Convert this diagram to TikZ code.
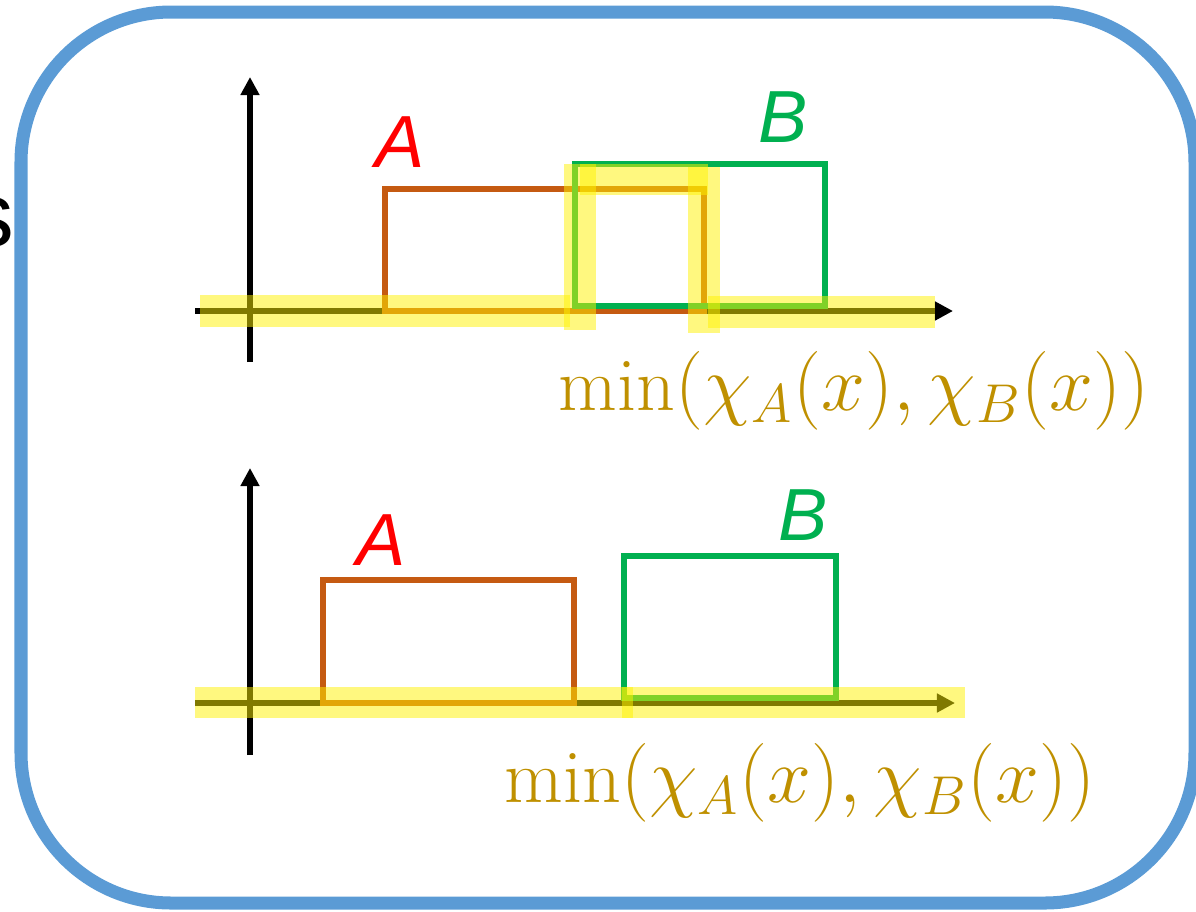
\documentclass[tikz,border=0pt]{standalone}
\usepackage{graphicx}
\usepackage{fontspec}
\newfontfamily\labelfont{Liberation Sans}
\usetikzlibrary{arrows.meta}
\definecolor{frameblue}{RGB}{91,155,213}
\definecolor{setbrown}{RGB}{197,90,17}
\definecolor{setgreen}{RGB}{0,176,80}
\definecolor{mingold}{RGB}{191,144,0}
\newcommand{\minchi}{\scalebox{1.08}{$\min(\chi_A(x),\chi_B(x))$}}

\begin{document}
\begin{tikzpicture}[x=0.01cm, y=-0.01cm,
    axis/.style={draw=black, line width=1.7pt,
                 -{Triangle[length=0.18cm, width=0.18cm]}},
    setA/.style={draw=setbrown, line width=1.6pt},
    setB/.style={draw=setgreen, line width=1.6pt},
    hl/.style={fill=yellow, fill opacity=0.5},
    setlbl/.style={font=\labelfont\itshape\fontsize{21}{25}\selectfont,
                   inner sep=0pt},
    minlbl/.style={text=mingold, font=\fontsize{20}{24}\selectfont,
                   inner sep=0pt}
  ]
  \useasboundingbox (0,0) rectangle (1196,911);
  \clip (0,0) rectangle (1196,911);

  % Frame
  \draw[frameblue, line width=3.7pt, rounded corners=1.5cm]
        (21,12) rectangle (1195,903);
  \node[anchor=east, inner sep=0pt,
        font=\labelfont\fontsize{26}{30}\selectfont] (cut) at (15,222) {s};

  % Upper plot: overlapping sets
  \coordinate (ya0) at (250,362);
  \coordinate (ya1) at (250,77);
  \coordinate (xa0) at (195,311);
  \coordinate (xa1) at (953,311);
  \draw[axis] (ya0) -- (ya1);
  \draw[axis] (xa0) -- (xa1);
  \draw[setA] (385,311) rectangle (704,189);
  \draw[setB] (575,306) rectangle (825,164);
  \node[setlbl, red]      (Aup) at (400,142) {A};
  \node[setlbl, setgreen] (Bup) at (783,117) {B};

  % highlight of the minimum
  \fill[hl] (200,295) rectangle (570,327);
  \fill[hl] (564,164) rectangle (596,330);
  \fill[hl] (580,164) rectangle (708,195);
  \fill[hl] (688,167) rectangle (720,333);
  \fill[hl] (708,296) rectangle (935,328);
  \node[minlbl] (minup) at (854,391) {\minchi};

  % Lower plot: disjoint sets
  \coordinate (yb0) at (250,755);
  \coordinate (yb1) at (250,468);
  \coordinate (xb0) at (195,703);
  \coordinate (xb1) at (955,703);
  \draw[axis] (yb0) -- (yb1);
  \draw[axis] (xb0) -- (xb1);
  \draw[setA] (323,703) rectangle (574,580);
  \draw[setB] (624,698) rectangle (836,556);
  \node[setlbl, red]      (Alow) at (381,540) {A};
  \node[setlbl, setgreen] (Blow) at (803,515) {B};

  \fill[hl] (195,687) rectangle (965,718);
  \fill[hl] (622,687) rectangle (633,718);
  \node[minlbl] (minlow) at (800,783) {\minchi};
\end{tikzpicture}
\end{document}
